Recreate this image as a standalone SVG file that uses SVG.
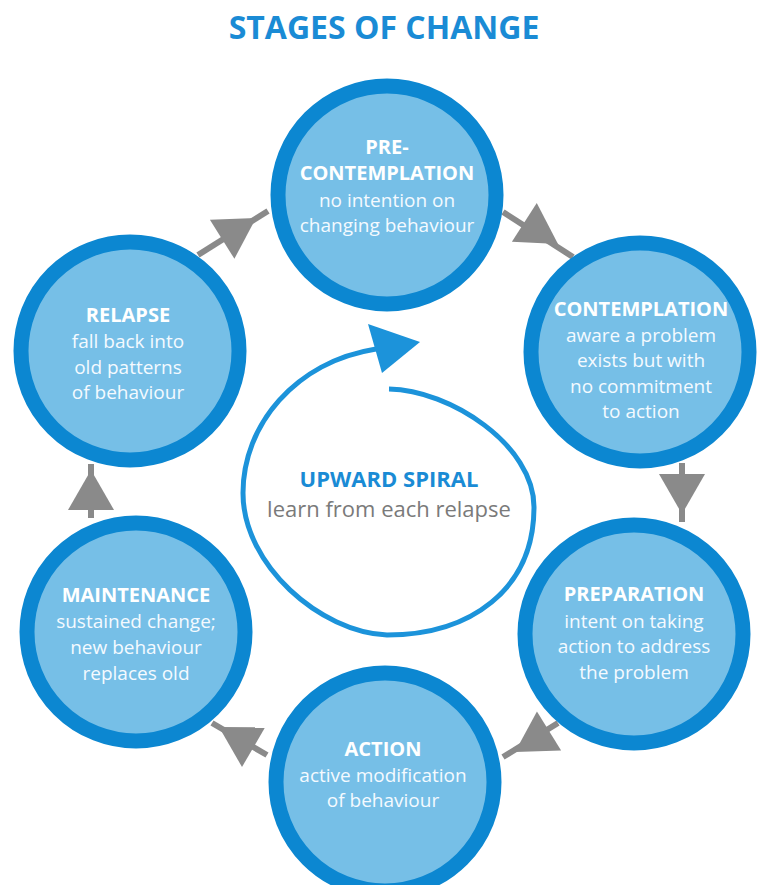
<svg xmlns="http://www.w3.org/2000/svg" xmlns:xlink="http://www.w3.org/1999/xlink" width="766" height="885" viewBox="0 0 766 885">
  <style>
    .ring { fill: #76bfe7; stroke: #0c87d1; stroke-width: 15; }
    .title { font-family: "Open Sans", "Liberation Sans", sans-serif; font-weight: 700; font-size: 32px; fill: #1a8bd5; text-anchor: middle; }
    .head { font-family: "Open Sans", "Liberation Sans", sans-serif; font-weight: 700; font-size: 20px; fill: #ffffff; text-anchor: middle; }
    .desc { font-family: "Open Sans", "Liberation Sans", sans-serif; font-weight: 400; font-size: 19px; fill: #f4faff; text-anchor: middle; }
    .link { stroke: #8a8a8a; stroke-width: 6; fill: none; }
    .arrow { fill: #8a8a8a; }
    .spiral { stroke: #1c93da; stroke-width: 5; fill: none; }
    .spiral-head { fill: #1c93da; }
    .spiral-title { font-family: "Open Sans", "Liberation Sans", sans-serif; font-weight: 700; font-size: 22px; fill: #1a8bd5; text-anchor: middle; }
    .spiral-sub { font-family: "Open Sans", "Liberation Sans", sans-serif; font-weight: 400; font-size: 22px; fill: #7a7a7a; text-anchor: middle; }
  </style>
  <defs>
    <!-- arrowhead: tip at origin, pointing along +x -->
    <polygon id="tri" class="arrow" points="0,0 -40,-23 -40,23"/>
  </defs>

  <rect width="766" height="885" fill="#ffffff"/>

  <text class="title" x="384" y="39">STAGES OF CHANGE</text>

  <!-- connectors between stages -->
  <g id="connectors">
    <line class="link" x1="503" y1="212" x2="573" y2="257"/>
    <use xlink:href="#tri" transform="translate(558,244) rotate(32.7)"/>

    <line class="link" x1="682" y1="463" x2="682" y2="522"/>
    <use xlink:href="#tri" transform="translate(682,514) rotate(90)"/>

    <line class="link" x1="558" y1="723" x2="503" y2="757"/>
    <use xlink:href="#tri" transform="translate(515,752) rotate(148.3)"/>

    <line class="link" x1="267" y1="755" x2="212" y2="723"/>
    <use xlink:href="#tri" transform="translate(219,727) rotate(210.2)"/>

    <line class="link" x1="91" y1="518" x2="91" y2="464"/>
    <use xlink:href="#tri" transform="translate(91,470) rotate(-90)"/>

    <line class="link" x1="198" y1="255" x2="268" y2="211"/>
    <use xlink:href="#tri" transform="translate(256,218) rotate(-32.2)"/>
  </g>

  <g id="precontemplation">
    <circle class="ring" cx="387" cy="195" r="109"/>
    <text class="head" x="387" y="154">PRE-</text>
    <text class="head" x="387" y="180">CONTEMPLATION</text>
    <text class="desc" x="387" y="207">no intention on</text>
    <text class="desc" x="387" y="232">changing behaviour</text>
  </g>

  <g id="contemplation">
    <circle class="ring" cx="640" cy="352" r="109"/>
    <text class="head" x="641" y="316">CONTEMPLATION</text>
    <text class="desc" x="641" y="342">aware a problem</text>
    <text class="desc" x="641" y="367">exists but with</text>
    <text class="desc" x="641" y="393">no commitment</text>
    <text class="desc" x="641" y="418">to action</text>
  </g>

  <g id="preparation">
    <circle class="ring" cx="634" cy="634" r="109"/>
    <text class="head" x="634" y="601">PREPARATION</text>
    <text class="desc" x="634" y="628">intent on taking</text>
    <text class="desc" x="634" y="653">action to address</text>
    <text class="desc" x="634" y="679">the problem</text>
  </g>

  <g id="action">
    <circle class="ring" cx="385" cy="782" r="109"/>
    <text class="head" x="383" y="756">ACTION</text>
    <text class="desc" x="383" y="782">active modification</text>
    <text class="desc" x="383" y="807">of behaviour</text>
  </g>

  <g id="maintenance">
    <circle class="ring" cx="136" cy="632" r="109"/>
    <text class="head" x="136" y="602">MAINTENANCE</text>
    <text class="desc" x="136" y="628">sustained change;</text>
    <text class="desc" x="136" y="654">new behaviour</text>
    <text class="desc" x="136" y="680">replaces old</text>
  </g>

  <g id="relapse">
    <circle class="ring" cx="130" cy="351" r="109"/>
    <text class="head" x="128" y="322">RELAPSE</text>
    <text class="desc" x="128" y="348">fall back into</text>
    <text class="desc" x="128" y="374">old patterns</text>
    <text class="desc" x="128" y="399">of behaviour</text>
  </g>

  <!-- upward spiral in the middle -->
  <g id="upward-spiral">
    <path class="spiral" d="M389,389 C450,390 534,445 534,507 C534,590 470,635 387,635 C320,632 243,565 243,493 C243,425 295,362 376,349"/>
    <polygon class="spiral-head" points="368,324 420,342 382,373"/>
    <text class="spiral-title" x="389" y="487">UPWARD SPIRAL</text>
    <text class="spiral-sub" x="389" y="517">learn from each relapse</text>
  </g>
</svg>
